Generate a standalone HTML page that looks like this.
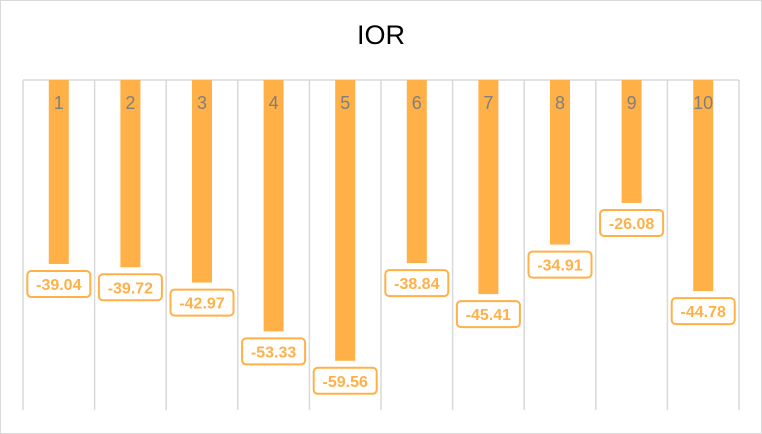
<!DOCTYPE html>
<html><head><meta charset="utf-8"><style>
html,body{margin:0;padding:0;background:#fff}
svg{display:block;font-family:"Liberation Sans",sans-serif}
</style></head><body>
<svg id="chart" width="762" height="434">
<rect x="0.5" y="0.5" width="761" height="433" fill="#fff" stroke="#d9d9d9"/>
<text x="381" y="44" text-anchor="middle" font-size="27" fill="#000">IOR</text>
<g id="grid"></g><g id="bars"></g>
</svg>
<script>
const categories=["1","2","3","4","5","6","7","8","9","10"];
const values=[-39.04,-39.72,-42.97,-53.33,-59.56,-38.84,-45.41,-34.91,-26.08,-44.78];
const yMin=-70,yMax=0;
const L=23,R=739,T=80,B=410;
const ns="http://www.w3.org/2000/svg";
const grid=document.getElementById('grid'),bars=document.getElementById('bars');
const cw=(R-L)/categories.length;
function y(v){return T+(yMax-v)/(yMax-yMin)*(B-T);}
function xc(i){return L+cw*(i+0.5);}
function mk(t,a,p){const e=document.createElementNS(ns,t);for(const k in a)e.setAttribute(k,a[k]);p.appendChild(e);return e;}
const zeroLine=mk('line',{x1:L,x2:R,y1:T,y2:T,stroke:'#d9d9d9','stroke-width':1.5},grid);


for(let i=0;i<=categories.length;i++){
 const gx=L+cw*i;
 const g=mk('line',{x1:gx,x2:gx,y1:T,y2:B,stroke:'#d9d9d9','stroke-width':1.5},grid);
 
 
}
categories.forEach((c,i)=>{
 const cx=xc(i),v=values[i],yb=y(v);
 const r=mk('rect',{x:cx-10,y:T,width:20,height:yb-T,fill:'#ffb047'},bars);
 
 
 const t=mk('text',{x:cx,y:T+29,'text-anchor':'middle','font-size':18,fill:'#7f7f7f'},bars);
 t.textContent=c;
 
 
 const bx=mk('rect',{x:cx-31.5,y:yb+7,width:63,height:26,rx:4,fill:'#fff',stroke:'#ffb047','stroke-width':2},bars);
 
 
 const lt=mk('text',{x:cx,y:yb+26,'text-anchor':'middle','font-size':16,'font-weight':'bold',fill:'#ffb047'},bars);
 lt.textContent=v.toFixed(2);
 
 
});
</script>
</body></html>
